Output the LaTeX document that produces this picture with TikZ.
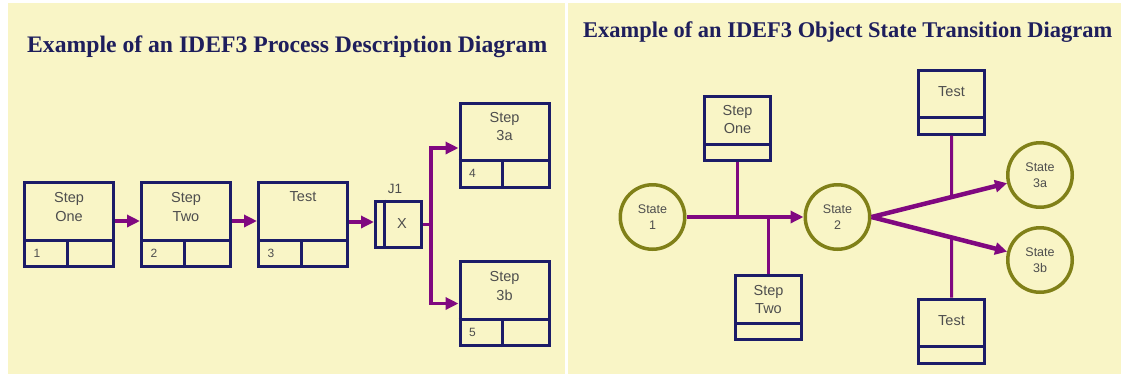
\documentclass[tikz,border=0pt]{standalone}
\usepackage{fontspec}
\setmainfont{Liberation Serif}
\newfontfamily\arialf{Liberation Sans}
\usetikzlibrary{arrows.meta,calc,intersections}
\definecolor{bgyel}{RGB}{249,245,198}
\definecolor{navy}{RGB}{28,28,104}
\definecolor{purp}{RGB}{128,8,128}
\definecolor{olivec}{RGB}{128,128,24}
\definecolor{titlec}{RGB}{30,30,92}
\definecolor{txtc}{RGB}{78,78,78}
\tikzset{
  panel/.style={fill=bgyel,draw=none},
  titletext/.style={inner sep=0pt,text=titlec,font=\fontsize{22}{22}\selectfont\bfseries},
  pbox/.style={draw=navy,line width=3pt,minimum width=89pt,minimum height=84pt,inner sep=0pt},
  obox/.style={draw=navy,line width=3pt,minimum width=66pt,minimum height=64pt,inner sep=0pt},
  jbox/.style={draw=navy,line width=3pt,minimum width=46pt,minimum height=46pt,inner sep=0pt},
  divl/.style={draw=navy,line width=3pt},
  btext/.style={inner sep=0pt,text=txtc,align=center,font=\arialf\fontsize{14.5}{18.5}\selectfont},
  ntext/.style={inner sep=0pt,text=txtc,font=\arialf\fontsize{12}{12}\selectfont},
  stext/.style={inner sep=0pt,text=txtc,align=center,font=\arialf\fontsize{12.5}{16}\selectfont},
  statec/.style={circle,draw=olivec,line width=3.5pt,minimum size=64.5pt,inner sep=0pt},
  pline/.style={draw=purp,line width=3pt},
  arr/.style={draw=purp,line width=3.5pt,-{Triangle[length=13pt,width=12pt]}},
  arrb/.style={draw=purp,line width=4.5pt,-{Triangle[length=12pt,width=12pt]}},
}
\newcommand\pdbox[5]{%
  \node[pbox] (#1) at #2 {};
  \draw[divl] ($(#1.south west)+(0,-28)$) -- ($(#1.south east)+(0,-28)$);
  \draw[divl] ($(#1.south west)+(44,0)$) -- ($(#1.south west)+(44,-28)$);
  \node[btext] (#1t) at ($(#1.north)+(0,#4)$) {#3};
  \node[ntext] (#1n) at ($(#1.south west)+(14,-15)$) {#5};
}
\newcommand\osbox[4]{%
  \node[obox] (#1) at #2 {};
  \draw[divl] ($(#1.south west)+(0,-18)$) -- ($(#1.south east)+(0,-18)$);
  \node[btext] (#1t) at ($(#1.north)+(0,#4)$) {#3};
}
\begin{document}
\begin{tikzpicture}[x=1pt,y=-1pt]
\useasboundingbox (0,0) rectangle (1121,376);
\fill[white] (0,0) rectangle (1121,376);
\fill[panel] (8,3) rectangle (565,374);
\fill[panel] (568,3) rectangle (1121,374);

% titles
\node[titletext,anchor=base west] (tl) at (27,52) {\resizebox{520pt}{!}{Example of an IDEF3 Process Description Diagram}};
\node[titletext,anchor=base west] (tr) at (583,37) {\resizebox{529pt}{!}{Example of an IDEF3 Object State Transition Diagram}};

% ---------- process description diagram ----------
\pdbox{s1}{(69,224.5)}{Step\\One}{26}{1}
\pdbox{s2}{(186,224.5)}{Step\\Two}{26}{2}
\pdbox{s3}{(303,224.5)}{Test}{15.5}{3}
\pdbox{s3a}{(504.5,145)}{Step\\3a}{25}{4}
\pdbox{s3b}{(504.5,303.5)}{Step\\3b}{26}{5}

\node[jbox] (j1) at (398.5,224) {};
\draw[divl] ($(j1.north west)+(10.5,0)$) -- ($(j1.south west)+(10.5,0)$);
\node[btext,font=\arialf\fontsize{13.5}{13.5}\selectfont] (j1l) at ($(j1.north)+(-3.5,-10.5)$) {J1};
\node[btext] (j1x) at ($(j1.center)+(3.5,0)$) {X};

\draw[arr] ([yshift=3.5pt]s1.east) -- ([yshift=3.5pt]s2.west);
\draw[arr] ([yshift=3.5pt]s2.east) -- ([yshift=3.5pt]s3.west);
\draw[arr] ([yshift=2.5pt]s3.east) -- ([yshift=2.5pt]s3.east -| j1.west);
\draw[pline] (j1.east) -- ++(8,0) coordinate (jx);
\draw[arr] (jx) |- ([yshift=-3pt]s3a.west);
\draw[arr] (jx) |- (s3b.west);

% ---------- object state transition diagram ----------
\node[statec] (c1) at (652.5,217) {};
\node[stext] (c1t) at (c1) {State\\1};
\node[statec] (c2) at (837.5,217) {};
\node[stext] (c2t) at (c2) {State\\2};
\node[statec] (c3a) at (1040,175) {};
\node[stext] (c3at) at (c3a) {State\\3a};
\node[statec] (c3b) at (1040,260) {};
\node[stext] (c3bt) at (c3b) {State\\3b};

\osbox{r1}{(737.5,128.5)}{Step\\One}{24.5}
\osbox{r2}{(768.5,307.5)}{Step\\Two}{25.5}
\osbox{t1}{(951.5,102)}{Test}{23.5}
\osbox{t2}{(951.5,331)}{Test}{23.5}

\draw[arr] (c1.east) -- (c2.west);
\draw[pline] (r1.south) -- (r1.south |- c1.east);
\draw[pline] (r2.north |- c1.east) -- (r2.north);

\draw[arrb,name path=pa] (c2.east) -- (c3a);
\draw[arrb,name path=pb] (c2.east) -- (c3b);
\path[name path=va] (t1.south) -- ++(0,120);
\path[name path=vb] (t2.north) -- ++(0,-120);
\draw[pline,name intersections={of=pa and va,by=ia}] (t1.south) -- (ia);
\draw[pline,name intersections={of=pb and vb,by=ib}] (ib) -- (t2.north);
\end{tikzpicture}
\end{document}
